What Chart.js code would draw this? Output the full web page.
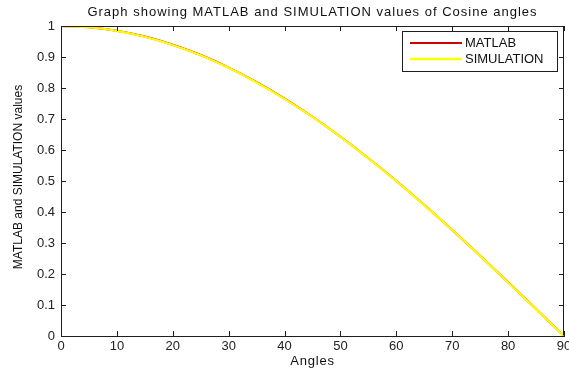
<!DOCTYPE html>
<html>
<head>
<meta charset="utf-8">
<script src="https://cdn.jsdelivr.net/npm/chart.js@4"></script>
<style>
  html, body { margin: 0; padding: 0; background: #fff; }
  #wrap { width: 569px; height: 369px; }
</style>
</head>
<body>
<div id="wrap"><canvas id="c" width="569" height="369"></canvas></div>
<script>
const angles = [0, 5, 10, 15, 20, 25, 30, 35, 40, 45, 50, 55, 60, 65, 70, 75, 80, 85, 90];
const matlabValues = [1.000, 0.9962, 0.9848, 0.9659, 0.9397, 0.9063, 0.8660, 0.8192, 0.7660, 0.7071, 0.6428, 0.5736, 0.5000, 0.4226, 0.3420, 0.2588, 0.1736, 0.0872, 0.000];
const simulationValues = [1.000, 0.9960, 0.9845, 0.9652, 0.9388, 0.9058, 0.8650, 0.8180, 0.7650, 0.7068, 0.6427, 0.5733, 0.4993, 0.4220, 0.3418, 0.2585, 0.1728, 0.0868, 0.000];
const xTicks = [0, 10, 20, 30, 40, 50, 60, 70, 80, 90];
const yTicks = [0, 0.1, 0.2, 0.3, 0.4, 0.5, 0.6, 0.7, 0.8, 0.9, 1];
const yTickLabels = ['0', '0.1', '0.2', '0.3', '0.4', '0.5', '0.6', '0.7', '0.8', '0.9', '1'];
const seriesNames = ['MATLAB', 'SIMULATION'];
const titleText = 'Graph showing MATLAB and SIMULATION values of Cosine angles';
const xTitle = 'Angles';
const yTitle = 'MATLAB and SIMULATION values';

const FONT = '"Liberation Sans", Arial, sans-serif';
const AXIS = '#1e1e1e';
const RED = '#cc0000';
const YELLOW = '#ffff00';

const toPts = (ys) => angles.map((a, i) => ({ x: a, y: ys[i] }));

const matlabPlugin = {
  id: 'matlabDecor',
  afterDraw(chart) {
    const ctx = chart.ctx;
    const a = chart.chartArea;
    const xs = chart.scales.x, ys = chart.scales.y;
    ctx.save();
    // box
    ctx.strokeStyle = AXIS;
    ctx.lineWidth = 1;
    ctx.beginPath();
    ctx.moveTo(Math.round(a.left) + 0.5, Math.round(a.top) + 0.5);
    ctx.lineTo(Math.round(a.right) - 0.5, Math.round(a.top) + 0.5);
    ctx.lineTo(Math.round(a.right) - 0.5, Math.round(a.bottom) - 0.5);
    ctx.stroke();
    // inward ticks
    const tl = 5;
    ctx.beginPath();
    xTicks.forEach(v => {
      const px = Math.round(xs.getPixelForValue(v)) + 0.5;
      ctx.moveTo(px, a.bottom); ctx.lineTo(px, a.bottom - tl);
      ctx.moveTo(px, a.top); ctx.lineTo(px, a.top + tl);
    });
    yTicks.forEach(v => {
      const py = Math.round(ys.getPixelForValue(v)) + 0.5;
      ctx.moveTo(a.left, py); ctx.lineTo(a.left + tl, py);
      ctx.moveTo(a.right, py); ctx.lineTo(a.right - tl, py);
    });
    ctx.stroke();
    // title
    ctx.fillStyle = '#111';
    ctx.textAlign = 'center';
    ctx.textBaseline = 'middle';
    const cx = (a.left + a.right) / 2;
    ctx.font = '13px ' + FONT;
    ctx.letterSpacing = '1px';
    ctx.fillText(titleText, cx, 12);
    // x title
    ctx.font = '13px ' + FONT;
    ctx.letterSpacing = '0.8px';
    ctx.fillText(xTitle, cx, 361);
    ctx.letterSpacing = '0px';
    // y title
    ctx.save();
    ctx.translate(19, 177);
    ctx.rotate(-Math.PI / 2);
    ctx.font = '12px ' + FONT;
    ctx.fillText(yTitle, 0, 0);
    ctx.restore();
    // legend
    const lx = 402, ly = 31, lw = 155, lh = 40;
    ctx.fillStyle = '#fff';
    ctx.fillRect(lx, ly, lw, lh);
    ctx.strokeStyle = AXIS;
    ctx.lineWidth = 1;
    ctx.strokeRect(lx + 0.5, ly + 0.5, lw, lh);
    const rows = [{ c: RED, w: 2, y: 43 }, { c: YELLOW, w: 2.5, y: 59 }];
    rows.forEach((r, i) => {
      ctx.strokeStyle = r.c;
      ctx.lineWidth = r.w;
      ctx.beginPath();
      ctx.moveTo(410, r.y); ctx.lineTo(462, r.y);
      ctx.stroke();
      ctx.fillStyle = '#111';
      ctx.font = '13px ' + FONT;
      ctx.textAlign = 'left';
      ctx.fillText(seriesNames[i], 465, r.y + 0.5);
    });
    ctx.restore();
  }
};

new Chart(document.getElementById('c'), {
  type: 'line',
  data: {
    datasets: [
      { label: seriesNames[0], data: toPts(matlabValues), borderColor: RED, borderWidth: 2, pointRadius: 0, cubicInterpolationMode: 'monotone', order: 2 },
      { label: seriesNames[1], data: toPts(simulationValues), borderColor: YELLOW, borderWidth: 2.2, pointRadius: 0, cubicInterpolationMode: 'monotone', order: 1 }
    ]
  },
  options: {
    responsive: false,
    animation: false,
    events: [],
    layout: { padding: { top: 26, right: 5, left: 0, bottom: 0 } },
    plugins: { legend: { display: false }, title: { display: false }, tooltip: { enabled: false } },
    scales: {
      x: {
        type: 'linear', min: 0, max: 90,
        afterBuildTicks: (s) => { s.ticks = xTicks.map(v => ({ value: v })); },
        afterFit: (s) => { s.height = 33; s.paddingLeft = 0; s.paddingRight = 0; },
        grid: { display: false, drawTicks: false },
        border: { display: true, color: AXIS, width: 1 },
        ticks: { padding: 3, color: '#222', font: { family: FONT, size: 13 }, maxRotation: 0, autoSkip: false }
      },
      y: {
        type: 'linear', min: 0, max: 1,
        afterBuildTicks: (s) => { s.ticks = yTicks.map(v => ({ value: v })); },
        afterFit: (s) => { s.width = 61; s.paddingTop = 0; s.paddingBottom = 0; },
        grid: { display: false, drawTicks: false },
        border: { display: true, color: AXIS, width: 1 },
        ticks: {
          padding: 6, color: '#222', font: { family: FONT, size: 13 }, autoSkip: false,
          callback: (v) => { const i = yTicks.findIndex(t => Math.abs(t - v) < 1e-9); return i >= 0 ? yTickLabels[i] : ''; }
        }
      }
    }
  },
  plugins: [matlabPlugin]
});
</script>
</body>
</html>
